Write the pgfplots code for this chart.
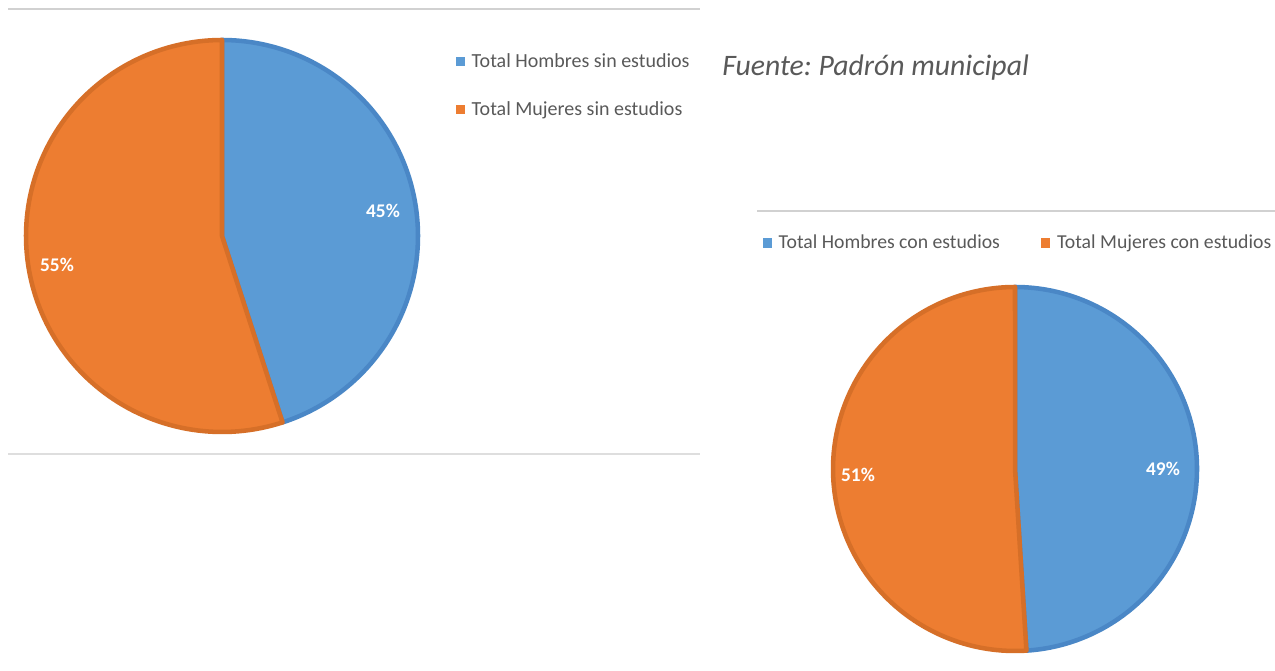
\documentclass[border=0pt]{standalone}
\usepackage{pgfplots}
\pgfplotsset{compat=1.18}
\usepackage{fontspec}
\setmainfont{Carlito}
\frenchspacing
\definecolor{pblue}{HTML}{5B9BD5}
\definecolor{porange}{HTML}{ED7D31}
\definecolor{pblueD}{HTML}{4A87C6}
\definecolor{porangeD}{HTML}{D66F28}
\definecolor{txtgray}{HTML}{595959}
% data (percentages)
\def\HsinVal{45}
\def\MsinVal{55}
\def\HconVal{49}
\def\McconVal{51}
\tikzset{pct/.style={font=\fontsize{14.5pt}{16pt}\selectfont\bfseries, text=white}}
\pgfplotsset{
  canvas/.style={
    hide axis, scale only axis,
    x=0.75pt, y=0.75pt,
    xmin=0, xmax=1275, ymin=0, ymax=671,
    clip=false,
    at={(0,0)}, anchor=south west,
    legend image code/.code={\fill[##1,draw=none] (0pt,-3.4pt) rectangle (6.8pt,3.4pt);},
    legend style={draw=none, fill=none, inner sep=0pt, outer sep=0pt,
      font=\fontsize{15pt}{17pt}\selectfont\color{txtgray},
      /tikz/every odd column/.style={column sep=3pt},
      /tikz/every even column/.style={column sep=0pt}},
  },
  slice/.style={line width=3.4pt, line join=round, samples=120, variable=\t},
}
\begin{document}
\begin{tikzpicture}
\useasboundingbox (0,0) rectangle (956.25pt,503.25pt);
% ---------- left chart ----------
\begin{axis}[canvas,
  legend style={at={(axis cs:456,611)}, anchor=north west, legend columns=1,
    row sep=20.5pt, yshift=7pt},
  legend cell align=left]
\addplot[slice, fill=pblue, draw=pblueD, domain=90:90-3.6*\HsinVal]
  ({222+196*cos(\t)},{435+196*sin(\t)}) -- (axis cs:222,435) -- cycle;
\addlegendentry{Total Hombres sin estudios}
\addplot[slice, fill=porange, draw=porangeD, domain=90-3.6*\HsinVal:-270]
  ({222+196*cos(\t)},{435+196*sin(\t)}) -- (axis cs:222,435) -- cycle;
\addlegendentry{Total Mujeres sin estudios}
\addplot[forget plot, color=black!18, line width=1.5pt] coordinates {(8,662) (700,662)};
\addplot[forget plot, color=black!13, line width=0.9pt] coordinates {(8,217) (700,217)};
\addplot[forget plot, color=black!18, line width=1.5pt] coordinates {(757,460) (1275,460)};
\node[pct] at (axis cs:383,460) {45\%};
\node[pct] at (axis cs:57,406) {55\%};
\node[anchor=west, font=\fontsize{22.3pt}{25pt}\selectfont\itshape, text=txtgray, inner sep=0pt]
  at (axis cs:722,603) {Fuente: Padrón municipal};
\end{axis}
% ---------- right chart ----------
\begin{axis}[canvas,
  legend style={at={(axis cs:763,428)}, anchor=west, legend columns=2,
    font=\fontsize{14.8pt}{17pt}\selectfont\color{txtgray},
    /tikz/every even column/.style={column sep=29pt}},
  legend cell align=left]
\addplot[slice, fill=pblue, draw=pblueD, domain=90:90-3.6*\HconVal]
  ({1015+182*cos(\t)},{202+182*sin(\t)}) -- (axis cs:1015,202) -- cycle;
\addlegendentry{Total Hombres con estudios}
\addplot[slice, fill=porange, draw=porangeD, domain=90-3.6*\HconVal:-270]
  ({1015+182*cos(\t)},{202+182*sin(\t)}) -- (axis cs:1015,202) -- cycle;
\addlegendentry{Total Mujeres con estudios}
\node[pct] at (axis cs:1163,202) {49\%};
\node[pct] at (axis cs:858,196) {51\%};
\end{axis}
\end{tikzpicture}
\end{document}
